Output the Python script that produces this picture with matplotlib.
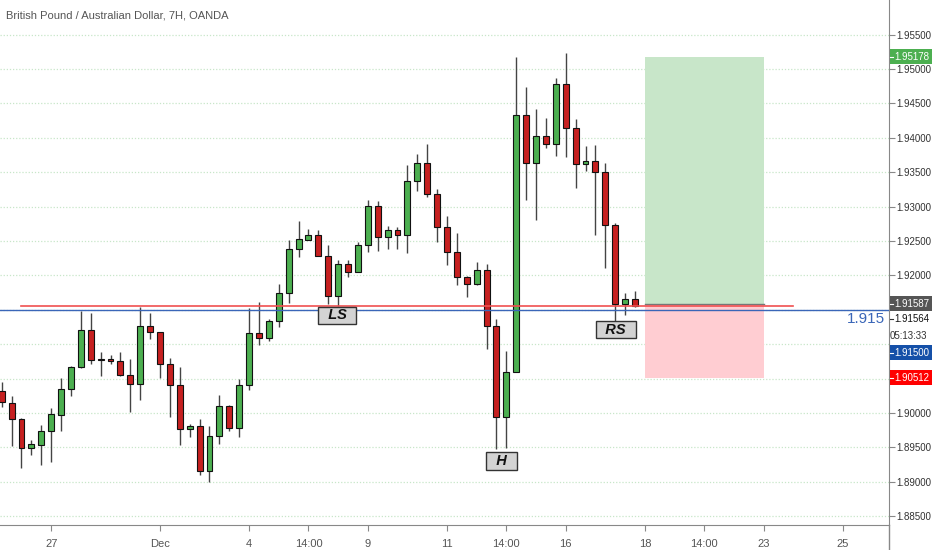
import matplotlib
matplotlib.use("Agg")
import matplotlib.pyplot as plt
from matplotlib.lines import Line2D
from matplotlib.patches import Rectangle
import numpy as np

plt.rcParams['font.family'] = ['Liberation Sans', 'DejaVu Sans']

# GBP/AUD 7H candles
opens = [1.9032, 1.9015, 1.8991, 1.8949, 1.8954, 1.8973, 1.8997, 1.9035, 1.9067, 1.9120,
         1.9078, 1.9078, 1.9076, 1.9055, 1.9042, 1.9126, 1.9117, 1.9071, 1.9040, 1.8976,
         1.8981, 1.8916, 1.8967, 1.9010, 1.8978, 1.9040, 1.9116, 1.9109, 1.9133, 1.9175,
         1.9238, 1.9252, 1.9259, 1.9228, 1.9170, 1.9217, 1.9205, 1.9244, 1.9301, 1.9256,
         1.9266, 1.9259, 1.9337, 1.9364, 1.9318, 1.9271, 1.9234, 1.9197, 1.9188, 1.9208,
         1.9127, 1.8994, 1.9060, 1.9433, 1.9364, 1.9403, 1.9391, 1.9479, 1.9415, 1.9362,
         1.9367, 1.9351, 1.9274, 1.9159, 1.9165]
highs = [1.9045, 1.9025, 1.8993, 1.8961, 1.8982, 1.9007, 1.9051, 1.9068, 1.9148, 1.9145,
         1.9089, 1.9084, 1.9089, 1.9078, 1.9154, 1.9146, 1.9118, 1.9080, 1.9067, 1.8984,
         1.8991, 1.8981, 1.9026, 1.9011, 1.9050, 1.9152, 1.9162, 1.9136, 1.9187, 1.9252,
         1.9279, 1.9268, 1.9266, 1.9244, 1.9222, 1.9222, 1.9248, 1.9310, 1.9308, 1.9272,
         1.9271, 1.9360, 1.9376, 1.9391, 1.9325, 1.9286, 1.9261, 1.9199, 1.9220, 1.9216,
         1.9136, 1.9090, 1.9517, 1.9474, 1.9442, 1.9429, 1.9487, 1.9524, 1.9427, 1.9388,
         1.9390, 1.9364, 1.9276, 1.9174, 1.9177]
lows = [1.9009, 1.8952, 1.8920, 1.8939, 1.8924, 1.8928, 1.8973, 1.9025, 1.9065, 1.9071,
        1.9053, 1.9071, 1.9054, 1.9002, 1.9019, 1.9107, 1.9051, 1.8994, 1.8954, 1.8965,
        1.8910, 1.8899, 1.8955, 1.8974, 1.8965, 1.9034, 1.9099, 1.9104, 1.9125, 1.9160,
        1.9227, 1.9251, 1.9228, 1.9159, 1.9156, 1.9197, 1.9205, 1.9234, 1.9236, 1.9239,
        1.9239, 1.9232, 1.9323, 1.9314, 1.9249, 1.9215, 1.9186, 1.9169, 1.9186, 1.9093,
        1.8947, 1.8949, 1.9060, 1.9310, 1.9280, 1.9385, 1.9373, 1.9372, 1.9327, 1.9352,
        1.9259, 1.9211, 1.9133, 1.9142, 1.9154]
closes = [1.9016, 1.8991, 1.8949, 1.8955, 1.8973, 1.8998, 1.9035, 1.9067, 1.9120, 1.9077,
          1.9077, 1.9076, 1.9055, 1.9042, 1.9126, 1.9117, 1.9071, 1.9040, 1.8976, 1.8981,
          1.8916, 1.8967, 1.9010, 1.8978, 1.9040, 1.9116, 1.9109, 1.9133, 1.9175, 1.9239,
          1.9253, 1.9259, 1.9228, 1.9170, 1.9217, 1.9205, 1.9244, 1.9301, 1.9256, 1.9266,
          1.9259, 1.9337, 1.9364, 1.9318, 1.9271, 1.9234, 1.9197, 1.9188, 1.9208, 1.9127,
          1.8994, 1.9060, 1.9433, 1.9364, 1.9403, 1.9391, 1.9479, 1.9415, 1.9362, 1.9367,
          1.9351, 1.9274, 1.9159, 1.9165, 1.9156]

xtick_pos = [5, 16, 25, 31, 37, 45, 51, 57, 65, 71, 77, 85]
xtick_labels = ['27', 'Dec', '4', '14:00', '9', '11', '14:00', '16', '18', '14:00', '23', '25']

neckline = 1.9155
level = 1.915
entry = 1.91587
target = 1.95178
stop = 1.90512
last_price = 1.91564

grid_levels = [1.885, 1.890, 1.895, 1.900, 1.905, 1.910, 1.915, 1.920, 1.925,
               1.930, 1.935, 1.940, 1.945, 1.950, 1.955]
shown_ticks = [1.885, 1.890, 1.895, 1.900, 1.920, 1.925, 1.930, 1.935,
               1.940, 1.945, 1.950, 1.955]

# pattern labels: (text, candle index, price)
patterns = [('LS', 33.9, 1.9142), ('H', 50.5, 1.8930), ('RS', 62.05, 1.9121)]

GREEN = '#4caf50'
RED = '#c62020'
W, H = 932, 550

fig = plt.figure(figsize=(9.32, 5.5), dpi=100)
ax = fig.add_axes([0, 25 / H, 888.7 / W, 525 / H])

for g in grid_levels:
    ax.axhline(g, color='#c8e6c9', lw=0.9, ls=(0, (1, 1.5)), zorder=0)

# position tool box
ax.fill_between([65, 77], entry, target, color='#c8e6c9', lw=0, zorder=1)
ax.fill_between([65, 77], stop, entry, color='#ffcdd2', lw=0, zorder=1)
ax.plot([65, 77], [entry, entry], color='#777777', lw=1, zorder=2)

x = np.arange(len(opens))
o = np.array(opens)
c = np.array(closes)
up = c >= o
colors = np.where(up, GREEN, RED)
ax.vlines(x, lows, highs, color='#444444', lw=1, zorder=3)
bottoms = np.minimum(o, c)
heights = np.maximum(np.abs(c - o), 0.00012)
ax.bar(x, heights, bottom=bottoms, width=0.6, color=colors,
       edgecolor='#111111', linewidth=0.8, zorder=4)

ax.plot([2, 80], [neckline, neckline], color='#f05050', lw=1.2, zorder=5)
ax.axhline(level, color='#3a66b8', lw=1, zorder=5)

for txt, xi, yp in patterns:
    ax.text(xi, yp, '  ' + txt + '  ', ha='center', va='center', fontsize=10.5,
            fontweight='bold', fontstyle='italic',
            color='#111111', zorder=6,
            bbox=dict(boxstyle='square,pad=0.12', fc='#d3d3d3', ec='#333333', lw=1))

ax.set_xlim(-0.17, 89.64)
ax.set_ylim(1.8837, 1.96005)

ax.yaxis.tick_right()
ax.set_yticks(shown_ticks)
ax.set_yticklabels(['%.5f' % t for t in shown_ticks])
ax.tick_params(axis='y', length=4, color='#888888', labelcolor='#333333',
               labelsize=7, pad=1.5)
ax.set_xticks(xtick_pos)
ax.set_xticklabels(xtick_labels)
ax.tick_params(axis='x', length=4, color='#888888', labelcolor='#555555',
               labelsize=8, pad=6)

for s in ['top', 'left']:
    ax.spines[s].set_visible(False)
for s in ['right', 'bottom']:
    ax.spines[s].set_color('#888888')
fig.add_artist(Line2D([888.7 / W, 888.7 / W], [0, 25 / H], color='#888888',
                      lw=1, transform=fig.transFigure))

ax.text(6 / 888.7, 1 - 15 / 525, 'British Pound / Australian Dollar, 7H, OANDA',
        transform=ax.transAxes, fontsize=8, color='#555555', va='center', ha='left')


# price labels on the right scale, dy_px = shift down from the price level
def price_label(txt, price, dy_px, fc, tc):
    yc = ax.transData.transform((0, price))[1] - dy_px
    if fc:
        fig.add_artist(Rectangle((889.5 / W, (yc - 7.5) / H), (W - 889.5) / W, 15 / H,
                                 transform=fig.transFigure, fc=fc, ec='none'))
        fig.add_artist(Line2D([889.5 / W, 893 / W], [yc / H, yc / H], color='white',
                              lw=0.8, transform=fig.transFigure))
    fig.text(894.5 / W, yc / H, txt, ha='left', va='center', fontsize=7, color=tc)


price_label('%.5f' % target, target, 0, GREEN, 'white')
price_label('%.5f' % entry, entry, 0, '#555555', 'white')
price_label('%.5f' % last_price, last_price, 14, None, '#111111')
fig.add_artist(Line2D([889.5 / W, 893 / W], [(ax.transData.transform((0, last_price))[1] - 14) / H] * 2,
                      color='#333333', lw=0.8, transform=fig.transFigure))
yt = ax.transData.transform((0, last_price))[1] - 31
fig.text(890 / W, yt / H, '05:13:33', ha='left', va='center', fontsize=7, color='#333333')
price_label('%.5f' % level, level, 43, '#1550a8', 'white')
price_label('%.5f' % stop, stop, 0, '#ff0000', 'white')

ax.annotate('1.915', xy=(1, level), xycoords=('axes fraction', 'data'),
            xytext=(-4 * 0.72, -9 * 0.72), textcoords='offset points',
            ha='right', va='center', fontsize=11, color='#3a66b8')

fig.savefig('out.png', dpi=100)
